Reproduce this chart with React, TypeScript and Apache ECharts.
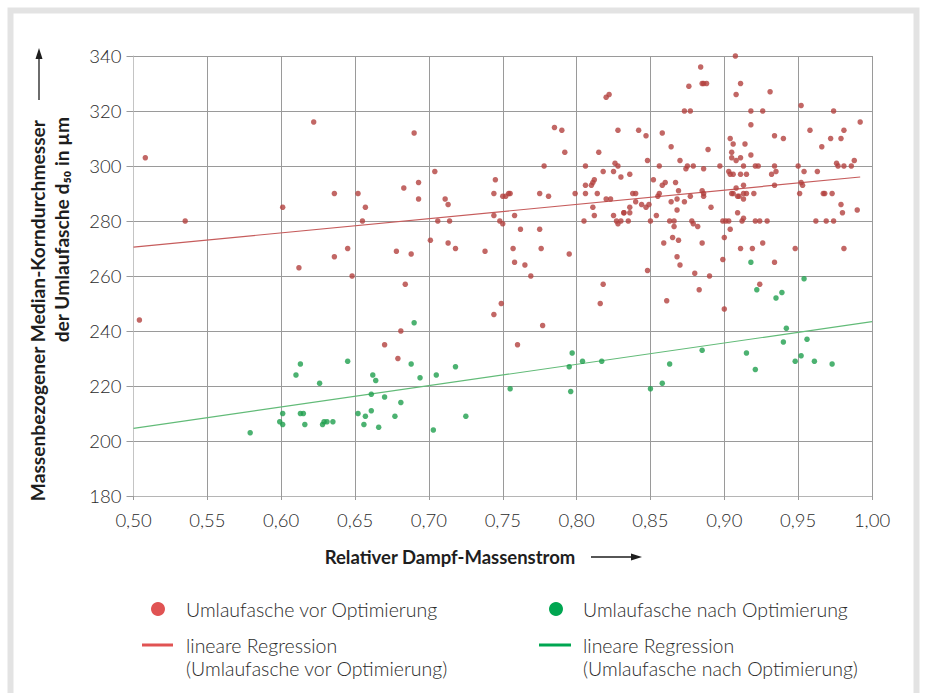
import React, { useEffect, useRef } from "react";
import * as echarts from "echarts";

// ---- data ----
const xTicks = [0.5, 0.55, 0.6, 0.65, 0.7, 0.75, 0.8, 0.85, 0.9, 0.95, 1.0];
const yTicks = [180, 200, 220, 240, 260, 280, 300, 320, 340];

const redPoints: number[][] = [
  [0.508, 303], [0.535, 280], [0.622, 316], [0.601, 285], [0.636, 290], [0.652, 290], [0.657, 285],
  [0.655, 280], [0.645, 270], [0.636, 267], [0.612, 263], [0.648, 260], [0.504, 244],
  [0.684, 257], [0.681, 240], [0.670, 235], [0.679, 230], [0.749, 250], [0.744, 246], [0.777, 242],
  [0.760, 235], [0.818, 257], [0.816, 250],
  [0.822, 326], [0.820, 325], [0.690, 312], [0.785, 314], [0.790, 313], [0.828, 313], [0.792, 305],
  [0.815, 305], [0.778, 300], [0.806, 300], [0.704, 298], [0.818, 298], [0.825, 298], [0.826, 301],
  [0.828, 300], [0.830, 296], [0.745, 295], [0.693, 294], [0.683, 292], [0.806, 293], [0.810, 293],
  [0.811, 294], [0.812, 295], [0.744, 290], [0.750, 289], [0.752, 289], [0.754, 290], [0.755, 290],
  [0.775, 290], [0.781, 289], [0.799, 290], [0.806, 290], [0.814, 290], [0.820, 288], [0.823, 288],
  [0.811, 285], [0.812, 282], [0.825, 282], [0.832, 283], [0.693, 288], [0.711, 288], [0.713, 286],
  [0.706, 280], [0.714, 280], [0.744, 282], [0.758, 282], [0.748, 280], [0.750, 279], [0.805, 280],
  [0.827, 280], [0.828, 279], [0.830, 280], [0.701, 273], [0.713, 272], [0.718, 270], [0.678, 269],
  [0.688, 268], [0.738, 269], [0.762, 277], [0.775, 277], [0.757, 270], [0.776, 270], [0.795, 268],
  [0.758, 265], [0.765, 264], [0.769, 260],
  [0.9075, 340], [0.884, 336], [0.885, 330], [0.886, 330], [0.888, 330], [0.911, 330], [0.876, 329],
  [0.908, 326], [0.931, 327], [0.952, 322], [0.873, 320], [0.877, 320], [0.918, 320], [0.926, 320],
  [0.974, 320], [0.992, 316], [0.918, 315], [0.842, 313], [0.858, 312], [0.958, 313], [0.981, 313],
  [0.847, 311], [0.864, 307], [0.904, 310], [0.906, 308], [0.914, 308], [0.934, 311], [0.940, 310],
  [0.972, 310], [0.979, 310], [0.966, 307], [0.889, 306], [0.848, 302], [0.870, 302], [0.905, 305],
  [0.905, 303], [0.908, 302], [0.911, 303], [0.918, 304], [0.976, 301], [0.977, 300], [0.988, 302],
  [0.856, 300], [0.874, 299], [0.875, 300], [0.879, 300], [0.886, 299], [0.897, 300], [0.913, 300],
  [0.921, 300], [0.923, 300], [0.934, 300], [0.950, 300], [0.981, 300], [0.986, 300], [0.963, 298],
  [0.954, 298], [0.935, 298], [0.932, 297], [0.903, 298], [0.904, 297], [0.906, 297], [0.911, 297],
  [0.915, 297], [0.836, 297], [0.852, 295], [0.860, 294], [0.858, 293], [0.867, 294], [0.913, 293],
  [0.934, 293], [0.952, 294], [0.953, 293], [0.838, 290], [0.840, 290], [0.856, 290], [0.855, 289],
  [0.869, 291], [0.877, 289], [0.885, 291], [0.886, 290], [0.886, 289], [0.905, 290], [0.906, 290],
  [0.908, 292], [0.909, 289], [0.910, 289], [0.913, 288], [0.913, 290], [0.915, 290], [0.920, 290],
  [0.951, 290], [0.967, 290], [0.968, 290], [0.973, 290], [0.840, 287], [0.844, 286], [0.847, 285],
  [0.849, 286], [0.836, 285], [0.832, 283], [0.836, 283], [0.864, 287], [0.868, 288], [0.873, 287],
  [0.868, 284], [0.854, 282], [0.891, 285], [0.909, 283], [0.979, 286], [0.980, 283], [0.990, 284],
  [0.835, 280], [0.850, 280], [0.863, 280], [0.866, 280], [0.878, 280], [0.879, 279], [0.882, 278],
  [0.866, 278], [0.899, 280], [0.901, 280], [0.903, 280], [0.904, 277], [0.912, 280], [0.913, 281],
  [0.921, 280], [0.924, 280], [0.929, 280], [0.962, 280], [0.969, 280], [0.974, 280], [0.865, 274],
  [0.869, 273], [0.859, 272], [0.885, 272], [0.900, 274], [0.926, 272], [0.911, 270], [0.919, 270],
  [0.948, 270], [0.981, 270], [0.868, 267], [0.899, 266], [0.934, 265], [0.870, 264], [0.848, 262],
  [0.880, 261], [0.890, 260], [0.861, 251], [0.883, 255], [0.900, 248], [0.924, 257],
];

const greenPoints: number[][] = [
  [0.613, 228], [0.610, 224], [0.645, 229], [0.626, 221], [0.662, 224], [0.664, 222], [0.661, 217],
  [0.652, 210], [0.657, 209], [0.661, 211], [0.656, 206], [0.666, 205], [0.601, 210], [0.599, 207],
  [0.601, 206], [0.613, 210], [0.615, 210], [0.616, 206], [0.628, 206], [0.629, 207], [0.631, 207],
  [0.635, 207], [0.579, 203],
  [0.690, 243], [0.688, 228], [0.694, 223], [0.705, 224], [0.718, 227], [0.670, 216], [0.681, 214],
  [0.677, 209], [0.703, 204], [0.725, 209], [0.755, 219], [0.797, 232], [0.795, 227], [0.804, 229],
  [0.817, 229], [0.796, 218],
  [0.918, 265], [0.954, 259], [0.922, 255], [0.935, 252], [0.939, 254], [0.942, 241], [0.940, 236],
  [0.956, 237], [0.885, 233], [0.915, 232], [0.921, 226], [0.863, 228], [0.858, 221], [0.850, 219],
  [0.948, 229], [0.952, 231], [0.961, 229], [0.973, 228],
];

const redRegression: number[][] = [[0.5, 270.5], [0.992, 296]];
const greenRegression: number[][] = [[0.5, 204.6], [1.0, 243.4]];

const seriesNames = [
  "Umlaufasche vor Optimierung",
  "Umlaufasche nach Optimierung",
  "lineare Regression\n(Umlaufasche vor Optimierung)",
  "lineare Regression\n(Umlaufasche nach Optimierung)",
];

const yTitleLines = ["Massenbezogener Median-Korndurchmesser", "der Umlaufasche d₅₀ in µm"];
const xTitle = "Relativer Dampf-Massenstrom";

const FONT = "Lato, 'Noto Sans', sans-serif";

export default function App() {
  const ref = useRef<HTMLDivElement>(null);

  useEffect(() => {
    if (!ref.current) return;
    const chart = echarts.init(ref.current, null, { renderer: "svg" });

    const legendText = (x: number, y: number, text: string) => ({
      type: "text",
      x,
      y,
      style: {
        text,
        fill: "#2b2b2b",
        font: `300 19.5px ${FONT}`,
        verticalAlign: "middle",
        align: "left",
        lineHeight: 23,
      },
    });

    chart.setOption({
      animation: false,
      backgroundColor: "#ffffff",
      grid: {
        left: 133.5,
        right: 55,
        top: 56,
        bottom: 197,
        containLabel: false,
        outerBoundsMode: "none",
      },
      xAxis: {
        type: "value",
        min: xTicks[0],
        max: xTicks[xTicks.length - 1],
        interval: 0.05,
        axisLine: { show: true, lineStyle: { color: "#b5b5b5", width: 1 } },
        axisTick: { show: true, length: 4, lineStyle: { color: "#9a9a9a" } },
        splitLine: { show: true, lineStyle: { color: "#9a9a9a", width: 1 } },
        axisLabel: {
          margin: 14,
          color: "#2b2b2b",
          fontFamily: FONT,
          fontWeight: 300,
          fontSize: 18.5,
          formatter: (v: number) => v.toFixed(2).replace(".", ","),
        },
      },
      yAxis: {
        type: "value",
        min: yTicks[0],
        max: yTicks[yTicks.length - 1],
        interval: 20,
        axisLine: { show: true, lineStyle: { color: "#c4c4c4", width: 1 } },
        axisTick: { show: true, length: 7, lineStyle: { color: "#9a9a9a" } },
        splitLine: { show: true, lineStyle: { color: "#9a9a9a", width: 1 } },
        axisLabel: {
          margin: 12,
          color: "#2b2b2b",
          fontFamily: FONT,
          fontWeight: 300,
          fontSize: 18.5,
        },
      },
      series: [
        {
          name: seriesNames[2],
          type: "line",
          data: redRegression,
          symbol: "none",
          lineStyle: { color: "#c65c5c", width: 1.2 },
          z: 2,
        },
        {
          name: seriesNames[3],
          type: "line",
          data: greenRegression,
          symbol: "none",
          lineStyle: { color: "#62bb78", width: 1.2 },
          z: 2,
        },
        {
          name: seriesNames[0],
          type: "scatter",
          data: redPoints,
          symbolSize: 5.5,
          itemStyle: { color: "#b3413f" },
          z: 3,
        },
        {
          name: seriesNames[1],
          type: "scatter",
          data: greenPoints,
          symbolSize: 5.5,
          itemStyle: { color: "#1f9f4e" },
          z: 3,
        },
      ],
      graphic: [
        // outer frame
        {
          type: "rect",
          shape: { x: 10.5, y: 10.5, width: 906, height: 720 },
          style: { fill: "none", stroke: "#e3e3e3", lineWidth: 6 },
          silent: true,
        },
        // y title + arrow
        {
          type: "text",
          x: 37,
          y: 120,
          rotation: Math.PI / 2,
          style: {
            text: yTitleLines[0],
            fill: "#1e1e1e",
            font: `bold 19.2px ${FONT}`,
            align: "right",
            verticalAlign: "middle",
          },
        },
        {
          type: "text",
          x: 61,
          y: 117,
          rotation: Math.PI / 2,
          style: {
            text: yTitleLines[1],
            fill: "#1e1e1e",
            font: `bold 19.2px ${FONT}`,
            align: "right",
            verticalAlign: "middle",
          },
        },
        {
          type: "line",
          shape: { x1: 39, y1: 100, x2: 39, y2: 58 },
          style: { stroke: "#1e1e1e", lineWidth: 1.3 },
        },
        {
          type: "polygon",
          shape: { points: [[39, 48], [35.5, 59], [42.5, 59]] },
          style: { fill: "#1e1e1e" },
        },
        // x title + arrow
        {
          type: "text",
          x: 450,
          y: 557,
          style: {
            text: xTitle,
            fill: "#1e1e1e",
            font: `bold 18.5px ${FONT}`,
            align: "center",
            verticalAlign: "middle",
          },
        },
        {
          type: "line",
          shape: { x1: 591, y1: 557, x2: 632, y2: 557 },
          style: { stroke: "#1e1e1e", lineWidth: 1.3 },
        },
        {
          type: "polygon",
          shape: { points: [[642, 557], [631, 553.5], [631, 560.5]] },
          style: { fill: "#1e1e1e" },
        },
        // legend
        { type: "circle", shape: { cx: 158, cy: 609, r: 7 }, style: { fill: "#e05353" } },
        legendText(186, 609, seriesNames[0]),
        { type: "circle", shape: { cx: 556, cy: 609, r: 7 }, style: { fill: "#00a651" } },
        legendText(583, 609, seriesNames[1]),
        {
          type: "line",
          shape: { x1: 142, y1: 645, x2: 173, y2: 645 },
          style: { stroke: "#e05353", lineWidth: 3 },
        },
        legendText(186, 656.5, seriesNames[2]),
        {
          type: "line",
          shape: { x1: 539, y1: 645, x2: 571, y2: 645 },
          style: { stroke: "#00a651", lineWidth: 3 },
        },
        legendText(583, 656.5, seriesNames[3]),
      ],
    });

    return () => chart.dispose();
  }, []);

  return (
    <div
      ref={ref}
      style={{ position: "fixed", left: 0, top: 0, width: 927, height: 693, background: "#fff" }}
    />
  );
}
